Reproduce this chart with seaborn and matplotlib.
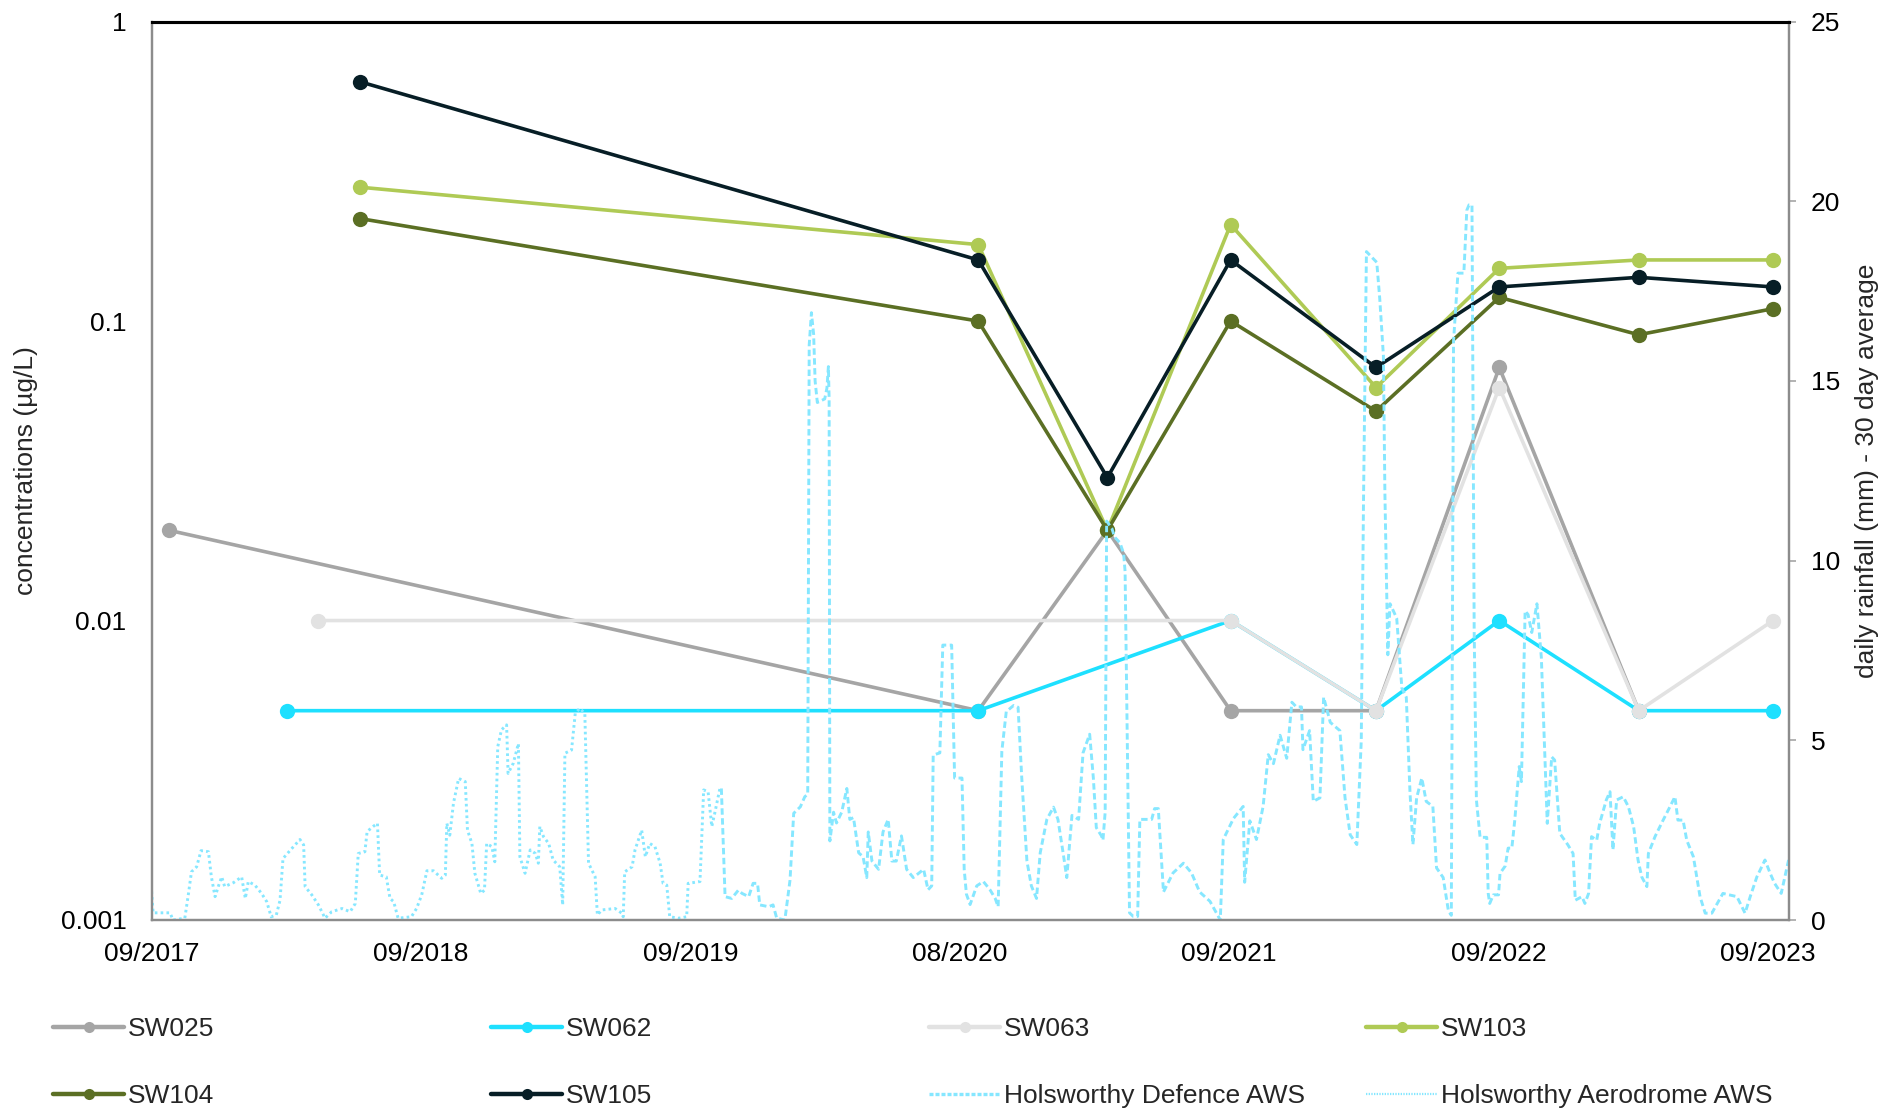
import numpy as np
import pandas as pd
import matplotlib
matplotlib.use("Agg")
import matplotlib.pyplot as plt
import seaborn as sns
from matplotlib.lines import Line2D

sns.set_style("white")
plt.rcParams["font.family"] = ["Liberation Sans", "DejaVu Sans"]

# ---------------- data ----------------
sample_dates = ["2017-09-25", "2018-03-04", "2018-04-15", "2018-06-10", "2020-09-25",
                "2021-03-19", "2021-09-02", "2022-03-18", "2022-09-01", "2023-03-09", "2023-09-07"]
nan = np.nan
sw025 = [0.02, nan, nan, nan, 0.005, 0.02, 0.005, 0.005, 0.07, 0.005, nan]
sw062 = [nan, 0.005, nan, nan, 0.005, nan, 0.01, 0.005, 0.01, 0.005, 0.005]
sw063 = [nan, nan, 0.01, nan, nan, nan, 0.01, 0.005, 0.06, 0.005, 0.01]
sw103 = [nan, nan, nan, 0.28, 0.18, 0.02, 0.21, 0.06, 0.15, 0.16, 0.16]
sw104 = [nan, nan, nan, 0.22, 0.10, 0.02, 0.10, 0.05, 0.12, 0.09, 0.11]
sw105 = [nan, nan, nan, 0.63, 0.16, 0.03, 0.16, 0.07, 0.13, 0.14, 0.13]

series_names = ["SW025", "SW062", "SW063", "SW103", "SW104", "SW105"]
series_values = [sw025, sw062, sw063, sw103, sw104, sw105]
series_colors = ["#a5a5a5", "#1ee0ff", "#e2e2e2", "#afca55", "#5b6f24", "#071e26"]

rain_start = "2017-09-01"
# Holsworthy Aerodrome AWS (30-day average daily rainfall, mm), days since rain_start
aero_days = [0, 2, 25, 29, 45, 50, 54, 61, 67, 77, 81, 86, 91, 95, 99, 111, 122, 127, 131, 140,
             149, 156, 162, 169, 174, 178, 190, 201, 206, 208, 217, 226, 235, 244, 258, 269, 276,
             280, 289, 292, 300, 306, 309, 318, 323, 328, 334, 352, 359, 366, 373, 382, 393, 398,
             400, 404, 409, 416, 425, 428, 434, 438, 446, 451, 454, 461, 465, 469, 474, 481, 483,
             490, 497, 499, 506, 513, 520, 524, 526, 531, 538, 544, 553, 557, 560, 569, 574, 580,
             587, 592, 601, 604, 610, 628, 637, 639, 641, 651, 655, 664, 669, 675, 682, 689, 693,
             698, 702, 714, 725, 727, 743, 748, 754, 759, 763, 770]
aero_mm = [0.8, 0.2, 0.2, 0.0, 0.05, 0.74, 1.34, 1.48, 1.93, 1.9, 1.2, 0.65, 0.97, 1.2, 0.93, 1.04,
           1.2, 0.6, 1.07, 0.97, 0.74, 0.51, 0.09, 0.14, 0.55, 1.71, 1.99, 2.24, 2.09, 0.93, 0.7,
           0.42, 0.05, 0.23, 0.32, 0.23, 0.46, 1.85, 1.9, 2.46, 2.6, 2.69, 1.25, 1.2, 0.6, 0.51,
           0.05, 0.09, 0.32, 0.7, 1.37, 1.37, 1.16, 1.25, 2.69, 2.36, 3.25, 3.94, 3.85, 2.5, 2.13,
           1.3, 0.74, 0.83, 2.13, 2.04, 1.62, 4.82, 5.29, 5.43, 4.08, 4.36, 4.91, 1.76, 1.3, 1.95,
           1.85, 1.58, 2.6, 2.32, 2.13, 1.67, 1.48, 0.42, 4.64, 4.73, 5.75, 5.89, 5.75, 1.58, 1.2,
           0.14, 0.28, 0.32, 0.19, 0.09, 1.34, 1.48, 1.95, 2.5, 1.76, 2.13, 2.04, 1.58, 1.02, 0.97,
           0.09, 0.05, 0.09, 1.02, 1.07, 3.62, 3.57, 2.6, 2.97, 3.66]
# Holsworthy Defence AWS
defence_days = [772, 777, 786, 795, 800, 809, 815, 821, 824, 836, 842, 847, 858, 865, 870, 879,
                885, 889, 891, 894, 897, 899, 902, 912, 915, 917, 918, 919, 924, 928, 935, 942,
                946, 951, 958, 964, 969, 971, 976, 985, 991, 998, 1003, 1009, 1016, 1023, 1032,
                1046, 1052, 1057, 1059, 1068, 1072, 1084, 1088, 1098, 1101, 1104, 1109, 1118,
                1127, 1136, 1143, 1147, 1152, 1158, 1168, 1174, 1179, 1186, 1192, 1199, 1204,
                1213, 1222, 1228, 1235, 1240, 1247, 1256, 1262, 1271, 1276, 1280, 1287, 1289,
                1292, 1294, 1301, 1305, 1312, 1317, 1319, 1322, 1325, 1330, 1336, 1339, 1355,
                1359, 1364, 1371, 1384, 1398, 1409, 1420, 1434, 1448, 1452, 1466, 1479, 1481,
                1488, 1497, 1506, 1513, 1520, 1529, 1538, 1545, 1551, 1558, 1560, 1569, 1574,
                1583, 1588, 1597, 1610, 1617, 1624, 1633, 1639, 1642, 1646, 1660, 1664, 1669,
                1671, 1675, 1678, 1687, 1694, 1700, 1705, 1709, 1714, 1721, 1727, 1736, 1741,
                1750, 1757, 1761, 1764, 1770, 1778, 1782, 1785, 1789, 1792, 1795, 1800, 1809,
                1811, 1813, 1818, 1825, 1827, 1834, 1838, 1843, 1847, 1853, 1856, 1861, 1865,
                1870, 1877, 1883, 1888, 1891, 1897, 1901, 1908, 1919, 1926, 1929, 1938, 1942,
                1947, 1951, 1958, 1962, 1971, 1976, 1980, 1985, 1994, 2001, 2008, 2014, 2019,
                2026, 2028, 2037, 2048, 2055, 2064, 2068, 2075, 2080, 2089, 2098, 2105, 2114,
                2129, 2148, 2159, 2166, 2175, 2186, 2193, 2199, 2208, 2215, 2218]
defence_mm = [3.66, 0.65, 0.6, 0.83, 0.74, 0.65, 1.02, 1.02, 0.42, 0.37, 0.42, 0.05, 0.0, 1.11,
              2.97, 3.15, 3.43, 3.5, 16.0, 16.9, 16.3, 15.0, 14.4, 14.5, 14.8, 15.4, 14.5, 2.2,
              3.0, 2.7, 3.0, 3.66, 2.8, 2.85, 1.87, 1.76, 1.18, 2.45, 1.64, 1.41, 2.45, 2.8,
              1.64, 1.64, 2.34, 1.41, 1.18, 1.41, 0.84, 0.95, 4.59, 4.65, 7.65, 7.65, 3.95,
              3.95, 1.41, 0.72, 0.43, 0.95, 1.07, 0.84, 0.6, 0.37, 4.7, 5.8, 5.97, 5.92, 3.95,
              1.64, 0.95, 0.6, 1.87, 2.8, 3.14, 2.8, 1.87, 1.18, 2.91, 2.8, 4.65, 5.17, 3.95,
              2.57, 2.34, 2.22, 3.0, 11.1, 10.9, 10.65, 10.5, 10.2, 9.7, 5.0, 0.2, 0.1, 0.1,
              2.8, 2.8, 3.1, 3.1, 0.78, 1.31, 1.58, 1.31, 0.78, 0.52, 0.0, 2.24, 2.83, 3.16,
              1.05, 2.76, 2.24, 3.16, 4.6, 4.35, 5.14, 4.5, 6.06, 5.93, 5.93, 4.74, 5.27, 3.3,
              3.4, 6.2, 5.5, 5.27, 3.4, 2.37, 2.1, 5.0, 11.6, 18.6, 18.3, 17.3, 15.7, 11.9,
              7.38, 8.8, 8.4, 6.45, 6.2, 3.56, 2.1, 3.4, 3.95, 3.3, 3.16, 1.45, 1.18, 0.26,
              0.13, 16.1, 18.0, 18.0, 19.75, 19.9, 19.9, 8.0, 3.34, 2.3, 2.3, 0.74, 0.46, 0.7,
              0.7, 1.3, 1.5, 2.0, 2.0, 2.78, 4.27, 3.85, 8.6, 8.5, 8.0, 8.8, 7.3, 4.45, 2.69,
              4.54, 4.45, 2.41, 2.09, 1.85, 0.55, 0.65, 0.46, 0.74, 2.32, 2.22, 2.69, 3.34,
              3.57, 1.95, 3.34, 3.43, 3.15, 2.6, 1.67, 1.2, 0.93, 1.85, 2.32, 2.78, 3.06, 3.43,
              2.78, 2.78, 2.22, 1.76, 0.65, 0.19, 0.19, 0.74, 0.65, 0.19, 0.65, 1.2, 1.67, 1.3,
              1.02, 0.74, 1.39, 1.67]
rain_names = ["Holsworthy Defence AWS", "Holsworthy Aerodrome AWS"]
rain_color = "#86e7ff"

x_tick_dates = ["2017-09-01", "2018-09-01", "2019-09-01", "2020-08-31", "2021-08-31",
                "2022-08-31", "2023-08-31"]
x_tick_labels = ["09/2017", "09/2018", "09/2019", "08/2020", "09/2021", "09/2022", "09/2023"]
x_end = "2023-09-28"
y_ticks = [0.001, 0.01, 0.1, 1]
y_tick_labels = ["0.001", "0.01", "0.1", "1"]
y2_ticks = [0, 5, 10, 15, 20, 25]

# ---------------- figure ----------------
W, H = 1886, 1110
fig = plt.figure(figsize=(W / 100, H / 100), dpi=100)
L, R, T, B = 151.6, 1788.6, 21.6, 920.0
ax = fig.add_axes([L / W, 1 - B / H, (R - L) / W, (B - T) / H])

dates = pd.to_datetime(sample_dates)
for name, vals, col in zip(series_names, series_values, series_colors):
    df = pd.DataFrame({"date": dates, "value": vals}).dropna()
    sns.lineplot(data=df, x="date", y="value", ax=ax, color=col, linewidth=2.6,
                 marker="o", markersize=11, markeredgewidth=0, markeredgecolor=col,
                 legend=False, estimator=None, sort=True)

ax.set_yscale("log")
ax.set_ylim(0.001, 1)
ax.set_yticks(y_ticks)
ax.set_yticklabels(y_tick_labels)
ax.yaxis.set_minor_locator(matplotlib.ticker.NullLocator())
ax.set_xlabel("")
ax.set_ylabel("")

ax2 = ax.twinx()
start = pd.Timestamp(rain_start)
aero_df = pd.DataFrame({"date": start + pd.to_timedelta(aero_days, unit="D"), "mm": aero_mm})
def_df = pd.DataFrame({"date": start + pd.to_timedelta(defence_days, unit="D"), "mm": defence_mm})
sns.lineplot(data=aero_df, x="date", y="mm", ax=ax2, color=rain_color, linewidth=2.1,
             linestyle=(0, (0.9, 1.1)), legend=False, estimator=None)
sns.lineplot(data=def_df, x="date", y="mm", ax=ax2, color=rain_color, linewidth=2.1,
             linestyle=(0, (2.2, 1.2)), legend=False, estimator=None)
ax2.set_ylim(0, 25)
ax2.set_yticks(y2_ticks)
ax2.set_yticklabels([str(v) for v in y2_ticks])
ax2.set_ylabel("")
ax2.set_xlabel("")

ax.set_xlim(pd.Timestamp(x_tick_dates[0]), pd.Timestamp(x_end))
ax.set_xticks(pd.to_datetime(x_tick_dates))
ax.set_xticklabels(x_tick_labels)

for a in (ax, ax2):
    for s in ("left", "right", "bottom"):
        a.spines[s].set_color("#8c8c8c")
        a.spines[s].set_linewidth(1.6)
    a.spines["top"].set_color("black")
    a.spines["top"].set_linewidth(2.2)
    a.grid(False)

ax.tick_params(axis="y", which="both", length=0, pad=18, labelsize=19, labelcolor="black")
ax.tick_params(axis="x", which="both", length=0, pad=15.5, labelsize=19, labelcolor="black")
ax2.tick_params(axis="y", which="both", length=5, width=1.2, color="#a6a6a6", pad=11,
                labelsize=19, labelcolor="black")

fig.text(26 / W, 1 - 471 / H, "concentrations (µg/L)", rotation=90, ha="center", va="center",
         fontsize=19)
fig.text(1867 / W, 1 - 471 / H, "daily rainfall (mm) - 30 day average", rotation=90,
         ha="center", va="center", fontsize=19)

# legend: four columns placed like the reference
def sample_handle(col):
    return Line2D([], [], color=col, linewidth=3.2, marker="o", markersize=8,
                  markeredgewidth=0)

h = {n: sample_handle(c) for n, c in zip(series_names, series_colors)}
h[rain_names[0]] = Line2D([], [], color=rain_color, linewidth=2.4, linestyle=(0, (1.2, 0.6)))
h[rain_names[1]] = Line2D([], [], color=rain_color, linewidth=1.6, linestyle=(0, (0.6, 0.6)))
columns = [["SW025", "SW104"], ["SW062", "SW105"], ["SW063", rain_names[0]],
           ["SW103", rain_names[1]]]
col_x = [53, 491, 929, 1366]
for names, xpx in zip(columns, col_x):
    leg = fig.legend([h[n] for n in names], names, loc="upper left",
                     bbox_to_anchor=(xpx / W, 1 - 1017 / H), frameon=False, fontsize=19,
                     handlelength=2.7, handletextpad=0.15, labelspacing=1.64,
                     borderpad=0, borderaxespad=0)

fig.savefig("out.png", dpi=100)
